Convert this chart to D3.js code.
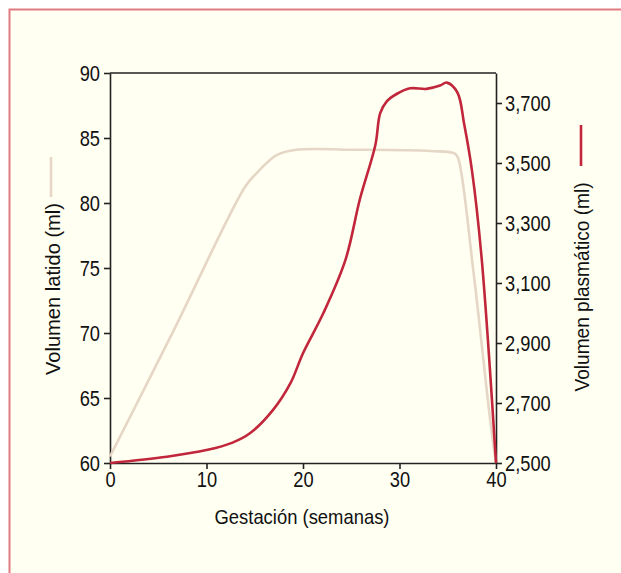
<!DOCTYPE html>
<html>
<head>
<meta charset="utf-8">
<script src="https://cdn.jsdelivr.net/npm/d3@7"></script>
<style>
  body { margin: 0; background: #ffffff; }
  svg { display: block; font-family: "Liberation Sans", Arial, sans-serif; }
</style>
</head>
<body>
<div class="chart"></div>
<script>
// gestation weeks and readings taken off the figure
const strokeWeeks = [0, 6.6, 14.0, 15.2, 17.3, 19.3, 25, 33.2, 35.75, 36.1, 37.65, 39.4, 40];
const strokeVolume = [60.5, 70.2, 81.25, 82.3, 83.7, 84.1, 84.1, 84.0, 83.8, 83.4, 74.8, 63.3, 60];

const plasmaWeeks = [0, 5.9, 10, 12.7, 14.5, 16.9, 18.7, 20.0, 22.1, 24.4, 25.9, 27.5, 28.0, 28.7, 29.7, 31.1, 32.8, 34.2, 34.9, 36.0, 36.7, 37.5, 38.5, 40];
const plasmaVolume = [2500, 2521, 2543, 2568, 2599, 2677, 2766, 2866, 2999, 3177, 3380, 3560, 3666, 3706, 3730, 3749, 3747, 3758, 3768, 3735, 3630, 3477, 3187, 2500];

const xTicks = [0, 10, 20, 30, 40];
const leftTicks = [60, 65, 70, 75, 80, 85, 90];
const rightTicks = [2500, 2700, 2900, 3100, 3300, 3500, 3700];

const W = 621, H = 573;
const margin = {top: 73, right: 125, bottom: 110, left: 110};
const width = W - margin.left - margin.right,
  height = H - margin.top - margin.bottom;

const svg = d3.select(".chart")
  .append("svg")
    .attr("width", W)
    .attr("height", H);

// page frame
svg.append("rect")
  .attr("x", 9.5).attr("y", 9.5)
  .attr("width", W + 20).attr("height", H + 20)
  .attr("fill", "#fffff2")
  .attr("stroke", "#e07b82")
  .attr("stroke-width", 2);

const g = svg.append("g")
  .attr("transform", "translate(" + margin.left + "," + margin.top + ")");

const x = d3.scaleLinear().domain([0, 40]).range([0, width]);
const yLeft = d3.scaleLinear().domain([60, 90]).range([height, 0]);
const yRight = d3.scaleLinear().domain([2500, 3800]).range([height, 0]);

// top frame line
g.append("line")
  .attr("x1", 0).attr("x2", width)
  .attr("y1", 0).attr("y2", 0)
  .attr("stroke", "#222").attr("stroke-width", 1.6);

function styleAxis(sel) {
  sel.selectAll(".domain").attr("stroke", "#222").attr("stroke-width", 1.6);
  sel.selectAll(".tick line").attr("stroke", "#222").attr("stroke-width", 1.6);
  sel.selectAll(".tick text").attr("fill", "#111").style("font-size", "22px");
}

g.append("g")
  .attr("transform", "translate(0," + height + ")")
  .call(d3.axisBottom(x).tickValues(xTicks).tickSize(6).tickSizeOuter(0).tickPadding(2))
  .call(styleAxis);

g.append("g")
  .call(d3.axisLeft(yLeft).tickValues(leftTicks).tickSize(6).tickSizeOuter(0).tickPadding(4))
  .call(styleAxis);

g.append("g")
  .attr("transform", "translate(" + width + ",0)")
  .call(d3.axisRight(yRight).tickValues(rightTicks).tickFormat(d3.format(",")).tickSize(6).tickSizeOuter(0).tickPadding(3))
  .call(styleAxis);

// condensed look for tick labels
g.selectAll(".tick text").each(function() {
  const len = this.getComputedTextLength();
  d3.select(this)
    .attr("textLength", len * 0.83)
    .attr("lengthAdjust", "spacingAndGlyphs");
});

// curves
const strokeLine = d3.line()
  .x((d, i) => x(strokeWeeks[i]))
  .y(d => yLeft(d))
  .curve(d3.curveCatmullRom.alpha(0.5));

const plasmaLine = d3.line()
  .x((d, i) => x(plasmaWeeks[i]))
  .y(d => yRight(d))
  .curve(d3.curveCatmullRom.alpha(0.5));

g.append("path")
  .datum(strokeVolume)
  .attr("d", strokeLine)
  .attr("fill", "none")
  .attr("stroke", "#e6d6c6")
  .attr("stroke-width", 2.6);

g.append("path")
  .datum(plasmaVolume)
  .attr("d", plasmaLine)
  .attr("fill", "none")
  .attr("stroke", "#c1263b")
  .attr("stroke-width", 2.6);

// axis titles (squeezed to the widths in the figure)
svg.append("text")
  .attr("transform", "translate(60,289) rotate(-90)")
  .attr("text-anchor", "middle")
  .style("font-size", "21px")
  .attr("fill", "#111")
  .attr("textLength", 172)
  .attr("lengthAdjust", "spacingAndGlyphs")
  .text("Volumen latido (ml)");

svg.append("line")
  .attr("x1", 51).attr("x2", 51)
  .attr("y1", 157).attr("y2", 197)
  .attr("stroke", "#e6d6c6").attr("stroke-width", 2.6);

svg.append("text")
  .attr("transform", "translate(589,287) rotate(-90)")
  .attr("text-anchor", "middle")
  .style("font-size", "21px")
  .attr("fill", "#111")
  .attr("textLength", 209)
  .attr("lengthAdjust", "spacingAndGlyphs")
  .text("Volumen plasmático (ml)");

svg.append("line")
  .attr("x1", 581).attr("x2", 581)
  .attr("y1", 125).attr("y2", 166)
  .attr("stroke", "#c1263b").attr("stroke-width", 2.6);

svg.append("text")
  .attr("x", 302).attr("y", 524)
  .attr("text-anchor", "middle")
  .style("font-size", "21px")
  .attr("fill", "#111")
  .attr("textLength", 175)
  .attr("lengthAdjust", "spacingAndGlyphs")
  .text("Gestación (semanas)");
</script>
</body>
</html>
